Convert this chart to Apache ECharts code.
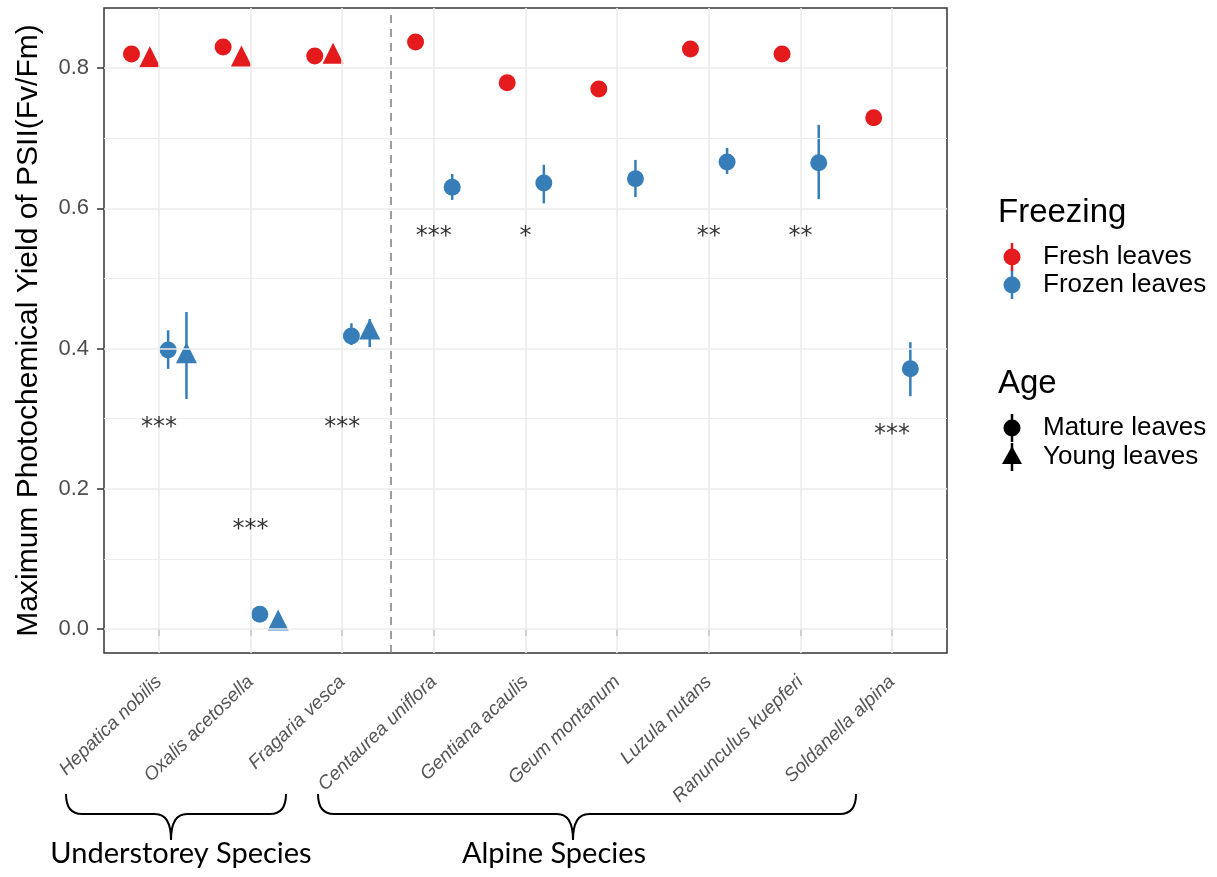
<!DOCTYPE html>
<html>
<head>
<meta charset="utf-8">
<title>Fv/Fm</title>
<script src="https://cdn.jsdelivr.net/npm/echarts@6.0.0/dist/echarts.min.js"></script>
<style>
  html, body { margin: 0; padding: 0; background: #fff; }
  #container { width: 1217px; height: 877px; }
</style>
</head>
<body>
<div id="container"></div>
<script>
// 数据
var species = ['Hepatica nobilis', 'Oxalis acetosella', 'Fragaria vesca', 'Centaurea uniflora',
  'Gentiana acaulis', 'Geum montanum', 'Luzula nutans', 'Ranunculus kuepferi', 'Soldanella alpina'];
var freshMature = [0.820, 0.830, 0.817, 0.837, 0.779, 0.770, 0.827, 0.820, 0.729];
var freshYoung = [0.816, 0.817, 0.821, null, null, null, null, null, null];
var frozenMature = [0.398, 0.021, 0.418, 0.630, 0.636, 0.642, 0.666, 0.665, 0.371];
var frozenMatureLow = [0.371, 0.015, 0.405, 0.612, 0.607, 0.616, 0.649, 0.613, 0.332];
var frozenMatureHigh = [0.426, 0.027, 0.436, 0.649, 0.662, 0.669, 0.686, 0.719, 0.409];
var frozenYoung = [0.394, 0.013, 0.428, null, null, null, null, null, null];
var frozenYoungLow = [0.328, 0.008, 0.402, null, null, null, null, null, null];
var frozenYoungHigh = [0.452, 0.018, 0.442, null, null, null, null, null, null];
var sigLabels = ['***', '***', '***', '***', '*', '', '**', '**', '***'];
var sigY = [0.294, 0.148, 0.294, 0.566, 0.566, null, 0.566, 0.566, 0.284];
var yTicks = [0, 0.2, 0.4, 0.6, 0.8];
var yMinor = [0.1, 0.3, 0.5, 0.7];
var groupSplit = 3.53;

var RED = '#E41A1C', BLUE = '#377EB8';
var FONT = '"Liberation Sans", Arial, sans-serif';

// dodge: 4 groups when young leaves exist, otherwise 2
function dodge(i, g) {
  var hasYoung = freshYoung[i] != null;
  if (hasYoung) return i + 1 + [-0.3, -0.1, 0.1, 0.3][g];
  return i + 1 + (g < 2 ? -0.2 : 0.2);
}

function points(vals, g) {
  var out = [];
  for (var i = 0; i < vals.length; i++) {
    if (vals[i] != null) out.push([dodge(i, g), vals[i]]);
  }
  return out;
}

function bars(low, high, g) {
  var out = [];
  for (var i = 0; i < low.length; i++) {
    if (low[i] != null) out.push([dodge(i, g), low[i], high[i]]);
  }
  return out;
}

function errRender(color) {
  return function (params, api) {
    var p1 = api.coord([api.value(0), api.value(1)]);
    var p2 = api.coord([api.value(0), api.value(2)]);
    return {
      type: 'line',
      shape: { x1: p1[0], y1: p1[1], x2: p2[0], y2: p2[1] },
      style: { stroke: color, lineWidth: 2.5 }
    };
  };
}

var sigData = [];
for (var i = 0; i < species.length; i++) {
  if (sigY[i] != null) sigData.push([i + 1, sigY[i], sigLabels[i]]);
}

var gridLines = [];
yTicks.forEach(function (v) { gridLines.push({ yAxis: v, lineStyle: { width: 1.6 } }); });
yMinor.forEach(function (v) { gridLines.push({ yAxis: v, lineStyle: { width: 0.9 } }); });
species.forEach(function (s, i) { gridLines.push({ xAxis: i + 1, lineStyle: { width: 1.6 } }); });

var xVals = species.map(function (s, i) { return i + 1; });

// curly brace made of curves and lines
function brace(x1, x2, xm, y) {
  var st = { stroke: '#000', lineWidth: 2, fill: null };
  var y2 = y + 20, tip = y + 46;
  return [
    { type: 'bezierCurve', shape: { x1: x1, y1: y, cpx1: x1, cpy1: y2, x2: x1 + 16, y2: y2 }, style: st },
    { type: 'line', shape: { x1: x1 + 16, y1: y2, x2: xm - 16, y2: y2 }, style: st },
    { type: 'bezierCurve', shape: { x1: xm - 16, y1: y2, cpx1: xm, cpy1: y2, x2: xm, y2: tip }, style: st },
    { type: 'bezierCurve', shape: { x1: xm, y1: tip, cpx1: xm, cpy1: y2, x2: xm + 16, y2: y2 }, style: st },
    { type: 'line', shape: { x1: xm + 16, y1: y2, x2: x2 - 16, y2: y2 }, style: st },
    { type: 'bezierCurve', shape: { x1: x2 - 16, y1: y2, cpx1: x2, cpy1: y2, x2: x2, y2: y }, style: st }
  ];
}

function txt(x, y, s, size, fam, align) {
  return {
    type: 'text', x: x, y: y,
    style: { text: s, fontSize: size, fontFamily: fam || FONT, fill: '#000', align: align || 'left', verticalAlign: 'middle' }
  };
}

var graphics = [
  // legend: Freezing
  txt(998, 213, 'Freezing', 33),
  { type: 'line', shape: { x1: 1012, y1: 243, x2: 1012, y2: 271 }, style: { stroke: RED, lineWidth: 2.5 } },
  { type: 'circle', shape: { cx: 1012, cy: 257, r: 8.5 }, style: { fill: RED } },
  txt(1043, 257, 'Fresh leaves', 26),
  { type: 'line', shape: { x1: 1012, y1: 271, x2: 1012, y2: 299 }, style: { stroke: BLUE, lineWidth: 2.5 } },
  { type: 'circle', shape: { cx: 1012, cy: 285, r: 8.5 }, style: { fill: BLUE } },
  txt(1043, 285, 'Frozen leaves', 26),
  // legend: Age
  txt(998, 384, 'Age', 33),
  { type: 'line', shape: { x1: 1012, y1: 414, x2: 1012, y2: 442 }, style: { stroke: '#000', lineWidth: 2.5 } },
  { type: 'circle', shape: { cx: 1012, cy: 428, r: 8.5 }, style: { fill: '#000' } },
  txt(1043, 428, 'Mature leaves', 26),
  { type: 'line', shape: { x1: 1012, y1: 443, x2: 1012, y2: 471 }, style: { stroke: '#000', lineWidth: 2.5 } },
  { type: 'polygon', shape: { points: [[1012, 446], [1022, 464], [1002, 464]] }, style: { fill: '#000' } },
  txt(1043, 457, 'Young leaves', 26),
  txt(181, 854, 'Understorey Species', 29, 'Lato, sans-serif', 'center'),
  txt(554, 854, 'Alpine Species', 29, 'Lato, sans-serif', 'center')
].concat(brace(66, 286, 171, 794), brace(318, 856, 573, 794));

var dom = document.getElementById('container');
var myChart = echarts.init(dom, null, { renderer: 'canvas' });

var option = {
  animation: false,
  grid: {
    left: 104, right: 270, top: 8, bottom: 224,
    show: true, borderColor: '#333333', borderWidth: 1.5, backgroundColor: '#fff'
  },
  xAxis: {
    type: 'value', min: 0.4, max: 9.6,
    axisLine: { show: false },
    splitLine: { show: false },
    axisTick: { show: true, customValues: xVals, length: 7, lineStyle: { color: '#333', width: 1.5 } },
    axisLabel: {
      customValues: xVals,
      formatter: function (v) { return species[Math.round(v) - 1]; },
      rotate: 44, fontStyle: 'italic', color: '#555555', fontSize: 19,
      fontFamily: FONT, margin: 26
    }
  },
  yAxis: {
    type: 'value', min: -0.0342, max: 0.8856,
    name: 'Maximum Photochemical Yield of PSII(Fv/Fm)',
    nameLocation: 'middle', nameGap: 60, nameRotate: 90,
    nameTextStyle: { fontSize: 30, color: '#000', fontFamily: FONT },
    axisLine: { show: false },
    splitLine: { show: false },
    axisTick: { show: true, customValues: yTicks, length: 7, lineStyle: { color: '#333', width: 1.5 } },
    axisLabel: {
      customValues: yTicks,
      formatter: function (v) { return v.toFixed(1); },
      color: '#4d4d4d', fontSize: 22, fontFamily: FONT, margin: 15
    }
  },
  series: [
    {
      type: 'scatter', data: [], z: 1, silent: true,
      markLine: {
        silent: true, symbol: 'none', label: { show: false },
        lineStyle: { color: '#ebebeb', type: 'solid' },
        data: gridLines
      }
    },
    {
      type: 'scatter', data: [], z: 2, silent: true,
      markLine: {
        silent: true, symbol: 'none', label: { show: false },
        lineStyle: { color: '#7f7f7f', type: [8, 6], width: 1.5 },
        data: [{ xAxis: groupSplit }]
      }
    },
    { type: 'custom', renderItem: errRender(BLUE), data: bars(frozenMatureLow, frozenMatureHigh, 2), z: 3 },
    { type: 'custom', renderItem: errRender(BLUE), data: bars(frozenYoungLow, frozenYoungHigh, 3), z: 3 },
    { name: 'Fresh mature', type: 'scatter', symbol: 'circle', symbolSize: 17, itemStyle: { color: RED, opacity: 1 }, data: points(freshMature, 0), z: 4 },
    { name: 'Fresh young', type: 'scatter', symbol: 'triangle', symbolSize: 21, itemStyle: { color: RED, opacity: 1 }, data: points(freshYoung, 1), z: 4 },
    { name: 'Frozen mature', type: 'scatter', symbol: 'circle', symbolSize: 17, itemStyle: { color: BLUE, opacity: 1 }, data: points(frozenMature, 2), z: 4 },
    { name: 'Frozen young', type: 'scatter', symbol: 'triangle', symbolSize: 21, itemStyle: { color: BLUE, opacity: 1 }, data: points(frozenYoung, 3), z: 4 },
    {
      type: 'scatter', symbolSize: 0, data: sigData, z: 5, silent: true,
      label: {
        show: true, position: 'inside', offset: [0, 5],
        formatter: function (p) { return p.data[2]; },
        color: '#000', fontSize: 24, fontFamily: '"DejaVu Sans", sans-serif'
      }
    }
  ],
  graphic: graphics
};

if (option && typeof option === 'object') {
  myChart.setOption(option);
}
</script>
</body>
</html>
